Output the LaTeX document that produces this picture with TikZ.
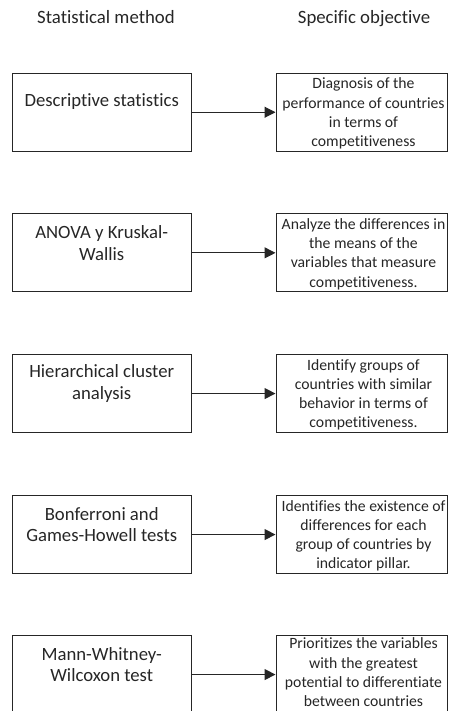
\documentclass[tikz,border=0pt]{standalone}
\usepackage{fontspec}
\setmainfont[Ligatures=NoCommon]{Carlito}
\usetikzlibrary{arrows.meta}
\definecolor{ink}{HTML}{262626}
\begin{document}
\begin{tikzpicture}[x=1pt,y=-1pt,
  frame/.style={draw=ink, line width=1.1pt, inner sep=0pt, anchor=north west},
  methodbox/.style={frame, minimum width=178.7pt, minimum height=78pt},
  goalbox/.style={frame, minimum width=171.8pt, minimum height=78pt},
  method/.style={font=\fontsize{18.7}{21.7}\selectfont, align=center, text=ink, inner sep=0pt},
  goal/.style={font=\fontsize{15.7}{19.2}\selectfont, align=center, text=ink, inner sep=0pt},
  head/.style={font=\fontsize{18.8}{22}\selectfont, text=ink, anchor=base, inner sep=0pt},
  link/.style={draw=ink, line width=1.1pt, -{Triangle[length=11pt,width=11pt]}}]

\useasboundingbox (0,0) rectangle (448,711);
\clip (0,0) rectangle (448,711);

% column headings
\node[head] (h1) at (106,24) {Statistical method};
\node[head] (h2) at (364,24) {Specific objective};

% row 1
\node[methodbox] (m1) at (12.3,72.7) {};
\node[goalbox] (o1) at (275.5,72.7) {};
\node[method] (m1t) at (101.7,102) {Descriptive statistics};
\node[goal] (o1t) at (363.5,113.5) {Diagnosis of the\\performance of countries\\in terms of\\competitiveness};
\draw[link] (m1.east) -- (o1.west);

% row 2
\node[methodbox] (m2) at (12.3,213.3) {};
\node[goalbox] (o2) at (275.5,213.3) {};
\node[method] (m2t) at (101.7,242.8) {ANOVA y Kruskal-\\Wallis};
\node[goal] (o2t) at (363.5,254.1) {Analyze the differences in\\the means of the\\variables that measure\\competitiveness.};
\draw[link] (m2.east) -- (o2.west);

% row 3
\node[methodbox] (m3) at (12.3,354) {};
\node[goalbox] (o3) at (275.5,354) {};
\node[method] (m3t) at (101.7,383.5) {Hierarchical cluster\\analysis};
\node[goal] (o3t) at (363.5,394.8) {Identify groups of\\countries with similar\\behavior in terms of\\competitiveness.};
\draw[link] (m3.east) -- (o3.west);

% row 4
\node[methodbox] (m4) at (12.3,495) {};
\node[goalbox] (o4) at (275.5,495) {};
\node[method] (m4t) at (101.7,524.5) {Bonferroni and\\Games-Howell tests};
\node[goal] (o4t) at (363.5,535.8) {Identifies the existence of\\differences for each\\group of countries by\\indicator pillar.};
\draw[link] (m4.east) -- (o4.west);

% row 5
\node[methodbox] (m5) at (12.3,635) {};
\node[goalbox] (o5) at (275.5,635) {};
\node[method] (m5t) at (101.7,664.5) {Mann-Whitney-\\Wilcoxon test};
\node[goal] (o5t) at (363.5,672.3) {Prioritizes the variables\\with the greatest\\potential to differentiate\\between countries};
\draw[link] (m5.east) -- (o5.west);
\end{tikzpicture}
\end{document}
